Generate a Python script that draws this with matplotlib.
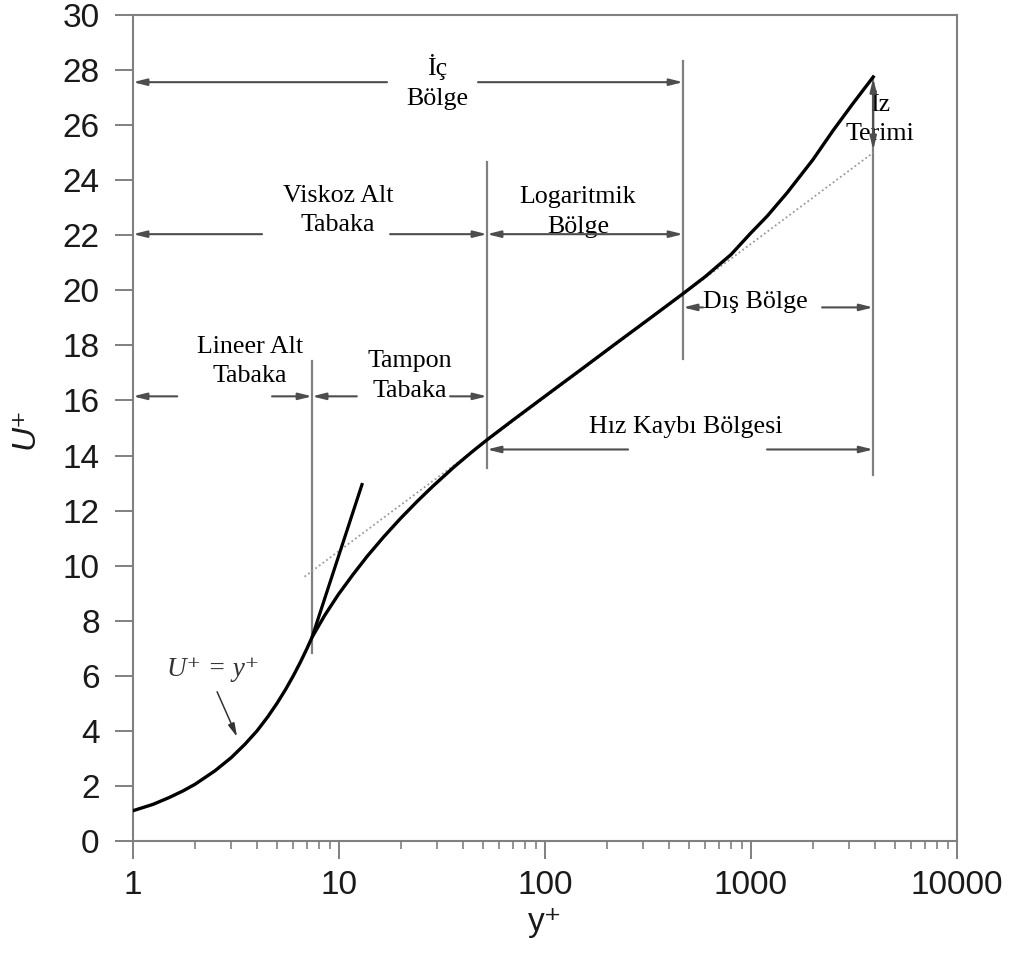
import matplotlib.pyplot as plt
from matplotlib.ticker import FixedLocator, FixedFormatter, LogLocator, NullFormatter

# velocity profile U+ vs y+
yplus = [1.0, 1.25, 1.5, 1.75, 2.0, 2.5, 3.0, 3.5, 4.0, 4.5, 5.0, 5.5, 6.0, 6.5,
         7.0, 7.4, 8.5, 9.9, 11.7, 13.7, 16.5, 19.8, 24.0, 28.6, 36.0, 44.0,
         52.3, 70.0, 105.8, 150.0, 220.0, 320.0, 468.0, 600.0, 800.0, 989.0,
         1200.0, 1500.0, 2000.0, 2500.0, 3100.0, 3920.0]
uplus = [1.1, 1.33, 1.58, 1.82, 2.06, 2.55, 3.03, 3.52, 4.0, 4.5, 5.0, 5.5, 6.0, 6.5,
         7.0, 7.4, 8.18, 8.94, 9.68, 10.34, 11.05, 11.7, 12.34, 12.89, 13.57, 14.12,
         14.57, 15.29, 16.29, 17.13, 18.06, 18.96, 19.88, 20.5, 21.3, 22.05,
         22.7, 23.55, 24.75, 25.8, 26.75, 27.75]

# U+ = y+ continued past the buffer layer (drawn as a straight stroke)
lin_y = [7.4, 13.0]
lin_u = [7.4, 13.0]

# log law extended both ways
log_y = [6.8, 3920.0]
log_u = [9.6, 25.0]

# region boundaries in y+
b_lin, b_buf, b_log, b_out = 7.4, 52.3, 468.0, 3920.0

xticks = [1, 10, 100, 1000, 10000]
xticklabels = ['1', '10', '100', '1000', '10000']
yticks = list(range(0, 31, 2))

gray = '#808080'
serif = ['Liberation Serif', 'DejaVu Serif']
sans = ['Liberation Sans', 'DejaVu Sans']
fs = 18.7
ls2 = 1.45

fig = plt.figure(figsize=(10.09, 9.63), dpi=100)
ax = fig.add_axes([133 / 1009, 1 - 841 / 963, 824 / 1009, 826 / 963])
ax.set_xscale('log')
ax.set_xlim(1, 10000)
ax.set_ylim(0, 30)

ax.plot(log_y, log_u, color='#9a9a9a', lw=1.3, ls=(0, (1, 1.5)), zorder=2)
ax.plot(lin_y, lin_u, color='black', lw=2.3, zorder=3, solid_capstyle='butt')
ax.plot(yplus, uplus, color='black', lw=2.4, zorder=4, solid_joinstyle='round')

# boundary lines
for x, y0, y1 in [(b_lin, 6.84, 17.42), (b_buf, 13.56, 24.65),
                  (b_log, 17.5, 28.33), (b_out, 13.3, 27.7)]:
    ax.plot([x, x], [y0, y1], color=gray, lw=1.6, zorder=1)


def arrow(x0, y0, x1, y1, style='-|>', color='#4d4d4d', lw=1.5):
    ax.annotate('', xy=(x1, y1), xytext=(x0, y0),
                arrowprops=dict(arrowstyle=style + ',head_length=0.8,head_width=0.2',
                                color=color, lw=lw, shrinkA=0, shrinkB=0),
                zorder=5)


# inner region
arrow(17.1, 27.56, 1, 27.56)
arrow(47.3, 27.56, b_log, 27.56)
ax.text(29.9, 27.56, 'İç\nBölge', ha='center', va='center', family=serif,
        fontsize=fs, linespacing=ls2)

# viscous sublayer
arrow(4.23, 22.04, 1, 22.04)
arrow(17.7, 22.04, b_buf, 22.04)
ax.text(9.9, 22.9, 'Viskoz Alt\nTabaka', ha='center', va='center', family=serif,
        fontsize=fs, linespacing=ls2)

# log region
arrow(b_buf, 22.04, b_log, 22.04, style='<|-|>')
ax.text(144.6, 22.85, 'Logaritmik\nBölge', ha='center', va='center', family=serif,
        fontsize=fs, linespacing=ls2)

# linear sublayer
arrow(1.64, 16.15, 1, 16.15)
arrow(4.73, 16.15, b_lin, 16.15)
ax.text(3.7, 17.42, 'Lineer Alt\nTabaka', ha='center', va='center', family=serif,
        fontsize=fs, linespacing=ls2)

# buffer layer
arrow(12.2, 16.15, b_lin, 16.15)
arrow(34.6, 16.15, b_buf, 16.15)
ax.text(22.1, 16.9, 'Tampon\nTabaka', ha='center', va='center', family=serif,
        fontsize=fs, linespacing=ls2)

# outer region
arrow(585, 19.38, b_log, 19.38)
arrow(2213, 19.38, b_out, 19.38)
ax.text(1045, 19.56, 'Dış Bölge', ha='center', va='center', family=serif,
        fontsize=fs)

# defect layer
arrow(253, 14.22, b_buf, 14.22)
arrow(1196, 14.22, b_out, 14.22)
ax.text(483, 15.05, 'Hız Kaybı Bölgesi', ha='center', va='center', family=serif,
        fontsize=fs)

# wake
arrow(b_out, 25.1, b_out, 27.7, style='<|-|>')
ax.text(4228, 26.2, 'İz\nTerimi', ha='center', va='center', family=serif,
        fontsize=fs, linespacing=ls2)

# U+ = y+ label with its pointer
ax.text(2.45, 6.22, 'U⁺ = y⁺', ha='center', va='center', family=serif,
        style='italic', fontsize=19.5, color='#333333')
arrow(2.56, 5.42, 3.2, 3.78, color='#333333', lw=1.1)

# axes styling
for s in ax.spines.values():
    s.set_color(gray)
    s.set_linewidth(1.5)
ax.xaxis.set_major_locator(FixedLocator(xticks))
ax.xaxis.set_major_formatter(FixedFormatter(xticklabels))
ax.xaxis.set_minor_locator(LogLocator(base=10, subs=range(2, 10)))
ax.xaxis.set_minor_formatter(NullFormatter())
ax.set_yticks(yticks)
ax.tick_params(axis='both', which='major', length=13, width=1.4, color=gray,
               labelsize=24, labelcolor='#1a1a1a')
ax.tick_params(axis='x', which='major', pad=8)
ax.tick_params(axis='y', which='major', pad=11)
ax.tick_params(axis='x', which='minor', length=6, width=1.2, color=gray)
for lab in ax.get_xticklabels() + ax.get_yticklabels():
    lab.set_family(sans)

ax.set_xlabel('y⁺', family=sans, fontsize=24, color='#1a1a1a', labelpad=4)
ax.set_ylabel('U⁺', family=sans, fontsize=24, style='italic', color='#1a1a1a',
              labelpad=16)

fig.savefig('out.png', dpi=100)
